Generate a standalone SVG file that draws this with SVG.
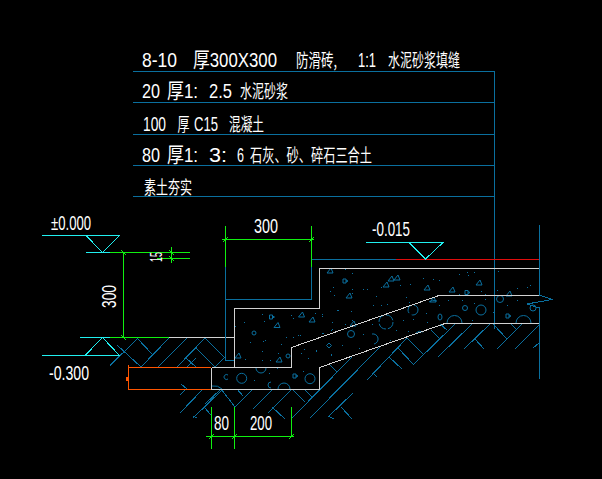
<svg xmlns="http://www.w3.org/2000/svg" width="602" height="479" viewBox="0 0 602 479">
<style>
.l{fill:none;stroke-width:1;shape-rendering:crispEdges}
.w{stroke:#d2d2d2}.b{stroke:#0a6f9e}.c{stroke:#20f0f0}.g{stroke:#10f010}.o{stroke:#ff5500}.r{stroke:#e00c0c}
.a{fill:none;stroke:#0a6f9e;stroke-width:1}
text{fill:#fff;font-family:"Liberation Sans","Noto Sans CJK SC",sans-serif;font-size:20px;stroke:none}
.m{font-size:21px}
.h{font-family:"Noto Sans CJK SC","Liberation Sans",sans-serif;font-size:18px}
</style>
<defs>
<path id="t" class="a" d="M-3 2L1-3 3 2Z"/>
<path id="q" class="a" d="M-2-2H1V2H-2ZM1-1L3 0 1 1"/>
</defs>
<rect width="602" height="479" fill="#000"/>

<g id="leader-table" class="l b">
<path d="M133 71.500H494.500V329M133 102.500H494.500M133 134.500H494.500M133 165.500H494.500M133 196.500H494.500"/>
</g>

<g id="labels">
<text class="m" y="66.500"><tspan x="142" textLength="35" lengthAdjust="spacingAndGlyphs">8-10</tspan> <tspan x="193" textLength="84" lengthAdjust="spacingAndGlyphs">厚300X300</tspan> <tspan x="296" class="h" textLength="41" lengthAdjust="spacingAndGlyphs">防滑砖,</tspan> <tspan x="358" textLength="18" lengthAdjust="spacingAndGlyphs">1:1</tspan> <tspan x="388" class="h" textLength="72" lengthAdjust="spacingAndGlyphs">水泥砂浆填缝</tspan></text>
<text class="m" y="98"><tspan x="142" textLength="18" lengthAdjust="spacingAndGlyphs">20</tspan> <tspan x="167" textLength="31" lengthAdjust="spacingAndGlyphs">厚1:</tspan> <tspan x="209" textLength="23" lengthAdjust="spacingAndGlyphs">2.5</tspan> <tspan x="240" class="h" textLength="48" lengthAdjust="spacingAndGlyphs">水泥砂浆</tspan></text>
<text class="m" y="131"><tspan x="143" textLength="23" lengthAdjust="spacingAndGlyphs">100</tspan> <tspan x="177.500" class="h" textLength="12" lengthAdjust="spacingAndGlyphs">厚</tspan> <tspan x="194" textLength="24" lengthAdjust="spacingAndGlyphs">C15</tspan> <tspan x="229" class="h" textLength="35" lengthAdjust="spacingAndGlyphs">混凝土</tspan></text>
<text class="m" y="162"><tspan x="142" textLength="18" lengthAdjust="spacingAndGlyphs">80</tspan> <tspan x="167" textLength="31" lengthAdjust="spacingAndGlyphs">厚1:</tspan> <tspan x="209" textLength="18" lengthAdjust="spacingAndGlyphs">3:</tspan> <tspan x="237" textLength="7" lengthAdjust="spacingAndGlyphs">6</tspan> <tspan x="250" class="h" textLength="122" lengthAdjust="spacingAndGlyphs">石灰、砂、碎石三合土</tspan></text>
<text y="193.500" class="h" x="144" textLength="48" lengthAdjust="spacingAndGlyphs">素土夯实</text>
</g>

<g id="hatch" class="l b">
<path d="M110 365.500L138 338M137 338L152 354M117 345L141 367M141 367L169 338M158 367L187 338M177 367L205 338M195 347L215 367M205 338L225 358M187 367L196 358M186 358L196 367M215 367L225 357"/>
<path d="M180 395L186 389M181 384L187 389M180 413L203 389M193 418L222 390M193 416L197 418M204 407L211 415M205 404L221 389M221 389L235 407M235 407L253 389M237 389L243 396M253 409L272 390M268 413L292 389M272 407L285 419M292 389L305 402M305 390L312 397"/>
<path d="M292 418L352 357M310 418L380 347M328 417L353 393M341 407L352 419M328 416L334 419M330 365L337 372M367 380L407 338M373 373L377 377M389 357L402 369M398 348L414 365M407 338L423 354M413 365L455 324M431 330L439 338M440 324L447 330M438 357L472 324M464 349L490 324M475 339L484 349M493 324L507 339M497 349L522 324M511 324L517 330M515 349L540 324M533 348L539 343"/>
</g>

<g id="concrete-aggregate">
<g transform="translate(0,.5)" class="l b">
<path d="M262 314h1M264 321h1M244 322h1M235 326h1M291 315h1M293 318h1M322 314h1M322 316h1M315 313h1M337 310h1M250 342h1M263 341h1M265 340h1M281 344h1M286 337h1M293 337h1M298 335h1M300 335h1M262 351h1M278 353h1M270 360h1M262 360h1M245 359h1M304 349h1M301 353h1M316 351h1M331 354h1M308 358h1M332 329h1M322 333h2M277 368h1M254 380h1M269 373h1M303 371h1M332 322h1M352 273h1M345 269h1M333 287h1M330 291h1M334 295h1M352 289h1M352 293h1M363 289h1M367 289h1M381 287h1M400 285h1M410 284h1M423 278h1M376 296h1M406 297h1M373 305h1M381 305h1M387 304h1M409 302h1M426 313h1M338 310h1M351 311h1M352 320h1M345 324h1M331 330h1M342 345h1M331 355h1M316 350h1M363 334h1M359 348h1M390 340h1M403 320h1M413 319h1M396 330h1M408 331h1M427 322h1M372 324h1M433 279h1M439 280h1M459 274h1M467 272h1M468 275h1M474 272h1M498 271h1M530 285h1M527 287h1M517 288h1M481 291h1M485 294h1M497 290h1M459 294h1M439 305h1M448 300h1M462 300h1M474 303h1M485 299h1M507 305h1M517 300h1M493 312h1M472 320h1"/>
</g>
<use href="#q" x="271.500" y="317"/><use href="#t" x="277" y="325.500"/><circle class="a" cx="254" cy="333" r="2"/>
<use href="#t" x="301.500" y="315"/><use href="#t" x="312" y="320"/><use href="#t" x="238" y="356"/><use href="#t" x="279" y="360"/><circle class="a" cx="288" cy="356" r="2"/>
<path class="a" d="M329 343L331.500 345.500 329 348 326.500 345.500Z"/>
<circle class="a" cx="241.700" cy="378.300" r="5"/><circle class="a" cx="310" cy="378.700" r="5"/>
<path class="a" d="M228 375A2.500 2.500 0 1 0 228 379M256 368A5 5 0 0 0 266 368M271 382A3 3 0 1 0 271 388M278 389A6 6 0 0 1 290 389M212 386Q218 385 222 389"/>
<use href="#q" x="295" y="376"/>
<use href="#t" x="330" y="271"/><use href="#q" x="345" y="281"/><use href="#t" x="391" y="279"/><use href="#t" x="397" y="278"/><use href="#t" x="386" y="285"/><use href="#t" x="427" y="288"/><use href="#t" x="349" y="296"/><use href="#t" x="353" y="324"/>
<circle class="a" cx="351" cy="334" r="3.500"/>
<circle class="a" cx="386" cy="322" r="7" stroke-dasharray="9 2"/><circle class="a" cx="413" cy="310" r="5" stroke-dasharray="9 3"/>
<path class="a" d="M372 334A5 5 0 0 1 374 344M416 333Q419 330 423 332M429 302Q432 299 437 301"/>
<use href="#t" x="452" y="290"/><use href="#q" x="467" y="292.500"/><use href="#t" x="479" y="283"/><use href="#t" x="509" y="294"/><use href="#t" x="433" y="300"/>
<circle class="a" cx="500" cy="299" r="3.500"/><circle class="a" cx="465" cy="308" r="2.500"/><circle class="a" cx="481" cy="310" r="5"/><ellipse class="a" cx="440" cy="317" rx="2" ry="3"/><use href="#q" x="508" y="316"/>
<path class="a" d="M447 323A7.500 7.500 0 0 1 462 323M516 323A7.500 7.500 0 0 1 531 323"/><circle class="a" cx="533" cy="308" r="3"/>
</g>

<g id="steps" class="l w">
<path d="M169 337.500H234.500M211.500 367.500H234.500V308.500H319.500V268.500H539"/>
<path d="M234.500 367.500H291.500V347.500L439 295.500H539"/>
<path d="M211.500 367.500V389.500H319.500V367.500L445 323.500H539"/>
</g>

<g id="connectors">
<g class="l b">
<path d="M225.500 267V299.500H311.500V267M311.500 259.500H396M225.500 299.500V360.500H234"/>
<path d="M539.500 225V295L552 299.500 527 304 539.500 308V379"/>
</g>
<path class="l r" d="M396 259.500H539"/>
<g class="l o">
<path d="M128.500 365V390M128.500 367.500H211M128.500 389.500H211"/>
<rect x="126" y="377" width="2" height="4" fill="#ff5500" stroke="none"/>
</g>
<g class="l c">
<path d="M42 235.500H119.500L102.500 252.500 86 235.500M86 252.500H110M80 337.500H110M42 355.500H119.500L102.500 337.500 85 355.500"/>
<path d="M366 242.500H443L425.500 259 409 242.500"/>
</g>
<g class="l g">
<path d="M110 252.500H190M157 258.500H190M171.500 247V263M123.500 252.500V337.500M110 337.500H169"/>
<path d="M225.500 226V267M311.500 226V267M222 239.500H314"/>
<path d="M211.500 407V449M234.500 407V449M291.500 407V437M206 436.500H294"/>
<path d="M121 250L126 255M121 335L126 340M169 250L174 255M169 256L174 261M223 242L228 237M309 242L314 237M209 439L214 434M232 439L237 434M289 439L294 434"/>
</g>
</g>

<g id="dimension-text">
<text x="51" y="230" textLength="40" lengthAdjust="spacingAndGlyphs">±0.000</text>
<text x="49" y="380" textLength="40" lengthAdjust="spacingAndGlyphs">-0.300</text>
<text x="372" y="236" textLength="38" lengthAdjust="spacingAndGlyphs">-0.015</text>
<text x="254" y="233" textLength="24" lengthAdjust="spacingAndGlyphs">300</text>
<text x="214" y="430" textLength="15" lengthAdjust="spacingAndGlyphs">80</text>
<text x="250" y="430" textLength="22" lengthAdjust="spacingAndGlyphs">200</text>
<text transform="translate(116,308) rotate(-90)" textLength="23" lengthAdjust="spacingAndGlyphs">300</text>
<text transform="translate(162,262) rotate(-90)" textLength="10" lengthAdjust="spacingAndGlyphs" style="font-size:17px">15</text>
</g>
</svg>
